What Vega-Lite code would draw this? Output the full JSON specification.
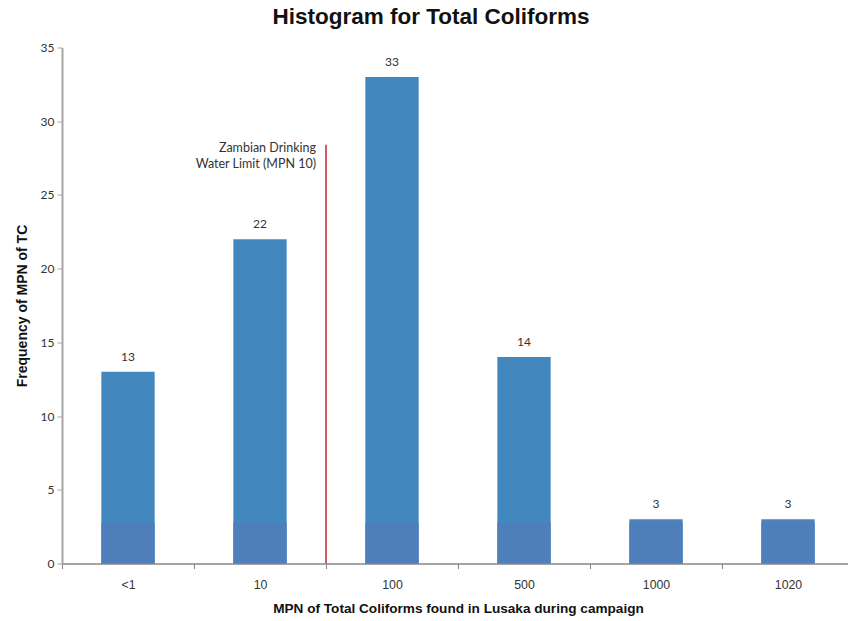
{
  "$schema": "https://vega.github.io/schema/vega-lite/v6.json",
  "autosize": {"type": "none"},
  "padding": {"left": 62, "top": 47.5, "right": 0, "bottom": 57.5},
  "width": 792,
  "height": 516,
  "background": "white",
  "title": {
    "text": "Histogram for Total Coliforms",
    "font": "Liberation Sans",
    "fontSize": 22.5,
    "fontWeight": "bold",
    "color": "#111111",
    "anchor": "middle",
    "dx": -27,
    "offset": 13
  },
  "datasets": {
    "bins": [
      {"mpn": "<1", "count": 13},
      {"mpn": "10", "count": 22},
      {"mpn": "100", "count": 33},
      {"mpn": "500", "count": 14},
      {"mpn": "1000", "count": 3},
      {"mpn": "1020", "count": 3}
    ],
    "limit": [
      {"mpn": "100", "top": 28.4, "label": "Zambian Drinking\nWater Limit (MPN 10)"}
    ]
  },
  "config": {
    "view": {"stroke": null},
    "axis": {"grid": false}
  },
  "encoding": {
    "x": {
      "field": "mpn",
      "type": "nominal",
      "sort": ["<1", "10", "100", "500", "1000", "1020"],
      "scale": {"paddingInner": 0, "paddingOuter": 0},
      "axis": {
        "title": "MPN of Total Coliforms found in Lusaka during campaign",
        "titleFont": "Liberation Sans",
        "titleFontSize": 13.6,
        "titleFontWeight": "bold",
        "titleColor": "#111111",
        "titlePadding": 11,
        "labelAngle": 0,
        "labelFont": "Liberation Sans",
        "labelFontSize": 12.3,
        "labelColor": "#333333",
        "labelPadding": 10,
        "tickBand": "extent",
        "tickSize": 5,
        "tickColor": "#868686",
        "domainColor": "#868686",
        "domainWidth": 1.5
      }
    }
  },
  "layer": [
    {
      "data": {"name": "bins"},
      "mark": {"type": "bar", "width": {"band": 0.404}},
      "encoding": {
        "y": {
          "field": "count",
          "type": "quantitative",
          "scale": {"domain": [0, 35], "nice": false},
          "axis": {
            "title": "Frequency of MPN of TC",
            "titleFont": "Liberation Sans",
            "titleFontSize": 14,
            "titleFontWeight": "bold",
            "titleColor": "#111111",
            "titlePadding": 11,
            "values": [0, 5, 10, 15, 20, 25, 30, 35],
            "labelFont": "Lato",
            "labelFontSize": 12,
            "labelColor": "#333333",
            "labelPadding": 3,
            "tickSize": 5,
            "tickColor": "#a6a6a6",
            "domainColor": "#a6a6a6",
            "domainWidth": 2
          }
        },
        "color": {
          "condition": {"test": "datum.count <= 3", "value": "#4f81bd"},
          "value": "#4288be"
        }
      }
    },
    {
      "data": {"name": "bins"},
      "mark": {"type": "bar", "width": {"band": 0.404}, "color": "#4f7fbb"},
      "encoding": {
        "y": {"datum": 0, "type": "quantitative"},
        "y2": {"datum": 2.75}
      }
    },
    {
      "data": {"name": "bins"},
      "mark": {"type": "text", "baseline": "bottom", "dy": -8, "font": "Lato", "fontSize": 12, "color": "#333333"},
      "encoding": {
        "y": {"field": "count", "type": "quantitative"},
        "text": {"field": "count", "type": "quantitative"}
      }
    },
    {
      "data": {"name": "limit"},
      "mark": {"type": "rule", "color": "#d65c5c", "strokeWidth": 2},
      "encoding": {
        "x": {"field": "mpn", "type": "nominal", "bandPosition": 0},
        "y": {"field": "top", "type": "quantitative"},
        "y2": {"datum": 0}
      }
    },
    {
      "data": {"name": "limit"},
      "mark": {"type": "text", "align": "right", "baseline": "top", "dx": -10, "dy": -3, "lineBreak": "\n", "lineHeight": 16, "font": "Lato", "fontSize": 12.5, "color": "#333333"},
      "encoding": {
        "x": {"field": "mpn", "type": "nominal", "bandPosition": 0},
        "y": {"field": "top", "type": "quantitative"},
        "text": {"field": "label"}
      }
    }
  ]
}
